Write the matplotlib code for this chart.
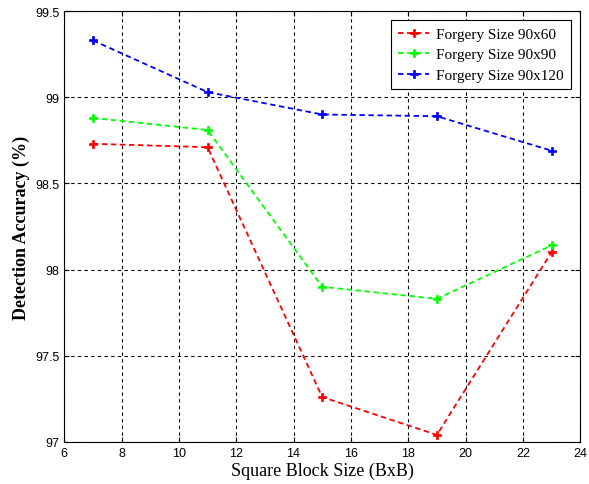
import matplotlib
matplotlib.use("Agg")
import matplotlib.pyplot as plt

# data
block_size = [7, 11, 15, 19, 23]
acc_90x60 = [98.73, 98.71, 97.26, 97.04, 98.10]
acc_90x90 = [98.88, 98.81, 97.90, 97.83, 98.14]
acc_90x120 = [99.33, 99.03, 98.90, 98.89, 98.69]
labels = ["Forgery Size 90x60", "Forgery Size 90x90", "Forgery Size 90x120"]

fig = plt.figure(figsize=(5.89, 4.85), dpi=100)
ax = fig.add_axes([0.109, 0.087, 0.876, 0.888])

for vals, col, lab in zip([acc_90x60, acc_90x90, acc_90x120],
                          ["#ff0000", "#00ff00", "#0000ff"], labels):
    ax.plot(block_size, vals, linestyle="--", color=col, linewidth=1.3,
            marker="P", markersize=6, markeredgewidth=0.5, markeredgecolor=col,
            label=lab, dashes=(3, 2))

ax.set_xlim(6, 24)
ax.set_ylim(97, 99.5)
ax.set_xticks(range(6, 25, 2))
ax.set_yticks([97, 97.5, 98, 98.5, 99, 99.5])
ax.set_yticklabels(["97", "97.5", "98", "98.5", "99", "99.5"])
ax.grid(True, color="black", linestyle=(0, (3, 3)), linewidth=0.8)
ax.tick_params(direction="in", labelsize=9, top=True, right=True)
for t in ax.get_xticklabels() + ax.get_yticklabels():
    t.set_family("Liberation Sans")

ax.set_xlabel("Square Block Size (BxB)", family="Liberation Serif",
              fontsize=13, labelpad=2)
ax.set_ylabel("Detection Accuracy (%)", family="Liberation Serif",
              fontsize=13, fontweight="bold", labelpad=4)

leg = ax.legend(loc="upper right", prop={"family": "Liberation Serif", "size": 11},
                fancybox=False, edgecolor="black", framealpha=1, numpoints=1,
                handlelength=2.0, handletextpad=0.5, borderpad=0.45,
                labelspacing=0.45, borderaxespad=0.6)
leg.get_frame().set_linewidth(0.8)

fig.savefig("out.png", dpi=100)
